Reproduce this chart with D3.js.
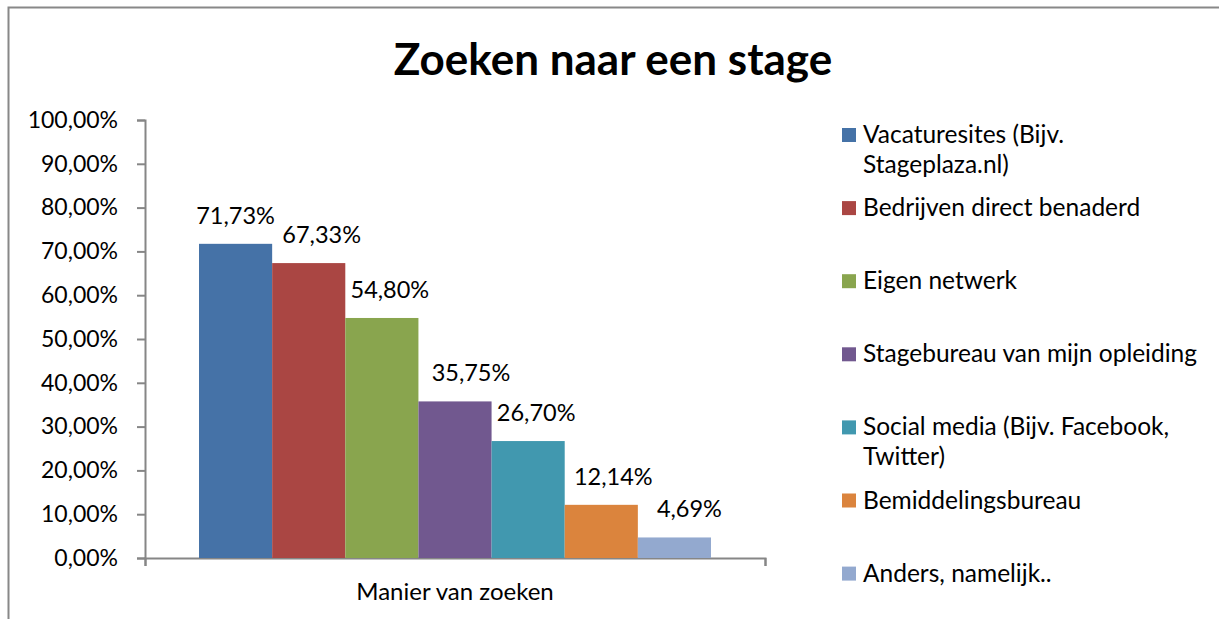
<!DOCTYPE html>
<html>
<head>
<meta charset="utf-8">
<script src="https://cdn.jsdelivr.net/npm/d3@7"></script>
<style>
 body{margin:0;background:#fff;}
 text{font-family:Lato,"Open Sans",sans-serif;fill:#000;}
</style>
</head>
<body>
<script>
 // waarden uit de grafiek
 var categories=["Vacaturesites (Bijv. Stageplaza.nl)","Bedrijven direct benaderd","Eigen netwerk","Stagebureau van mijn opleiding","Social media (Bijv. Facebook, Twitter)","Bemiddelingsbureau","Anders, namelijk.."]
 var legendLines=[["Vacaturesites (Bijv.","Stageplaza.nl)"],["Bedrijven direct benaderd"],["Eigen netwerk"],["Stagebureau van mijn opleiding"],["Social media (Bijv. Facebook,","Twitter)"],["Bemiddelingsbureau"],["Anders, namelijk.."]]
 var values=[71.73,67.33,54.80,35.75,26.70,12.14,4.69]
 var colors=["#4572A7","#AA4643","#89A54E","#71588F","#4198AF","#DB843D","#93A9CF"]
 var yTicks=[0,10,20,30,40,50,60,70,80,90,100]
 var group=["Manier van zoeken"]

 var svg=d3.select("body").append("svg")
   .attr("width",1219)
   .attr("height",619);

 svg.append("rect")
   .attr("x",8.5).attr("y",7.5)
   .attr("width",1230).attr("height",640)
   .attr("fill","none").attr("stroke","#888").attr("stroke-width",2);

 svg.append("text")
   .attr("x",613).attr("y",75)
   .attr("text-anchor","middle")
   .style("font-size","44px").style("font-weight","bold")
   .text("Zoeken naar een stage");

 var fmt=function(v){return d3.format(".2f")(v).replace(".",",")+"%";}

 var y=d3.scaleLinear().domain([0,100]).range([558,120]);
 var x0=d3.scaleBand().domain(group).range([145,765]).paddingInner(0).paddingOuter(0.1055);
 var x1=d3.scaleBand().domain(categories).range([0,x0.bandwidth()]);

 var yAxis=svg.append("g")
   .attr("transform","translate(145,0)")
   .call(d3.axisLeft(y).tickValues(yTicks).tickSize(8).tickPadding(19).tickFormat(fmt));
 yAxis.select(".domain").attr("stroke","#868686").attr("stroke-width",2);
 yAxis.selectAll(".tick line").attr("stroke","#868686").attr("stroke-width",2);
 yAxis.selectAll("text").style("font-size","23px").attr("font-family",null);

 var xAxis=svg.append("g")
   .attr("transform","translate(0,558)")
   .call(d3.axisBottom(d3.scaleLinear().domain([0,1]).range([145,765])).tickValues([0,1]).tickSize(8).tickFormat(""));
 xAxis.select(".domain").attr("stroke","#868686").attr("stroke-width",2);
 xAxis.selectAll(".tick line").attr("stroke","#868686").attr("stroke-width",2);

 svg.append("text")
   .attr("x",x0(group[0])+x0.bandwidth()/2).attr("y",600)
   .attr("text-anchor","middle")
   .style("font-size","24px")
   .text(group[0]);

 svg.selectAll(".bar").data(values).enter().append("rect")
   .attr("x",function(d,i){return x0(group[0])+x1(categories[i]);})
   .attr("y",function(d){return y(d);})
   .attr("width",x1.bandwidth())
   .attr("height",function(d){return y(0)-y(d);})
   .attr("fill",function(d,i){return colors[i];});

 // excel schuift de labels een beetje naar rechts
 var lblShift=[0,13,8,16,8,12,15];
 svg.selectAll(".lbl").data(values).enter().append("text")
   .attr("x",function(d,i){return x0(group[0])+x1(categories[i])+x1.bandwidth()/2+lblShift[i];})
   .attr("y",function(d){return y(d)-20;})
   .attr("text-anchor","middle")
   .style("font-size","23.5px")
   .text(fmt);

 var leg=svg.selectAll(".leg").data(legendLines).enter().append("g")
   .attr("transform",function(d,i){return "translate(842,"+(135+i*73.1)+")";});
 leg.append("rect")
   .attr("x",0).attr("y",-7).attr("width",14).attr("height",14)
   .attr("fill",function(d,i){return colors[i];});
 leg.each(function(d){
   var g=d3.select(this);
   d.forEach(function(line,j){
     g.append("text").attr("x",21).attr("y",8+j*30)
      .style("font-size","24.5px").text(line);
   });
 });
</script>
</body>
</html>
